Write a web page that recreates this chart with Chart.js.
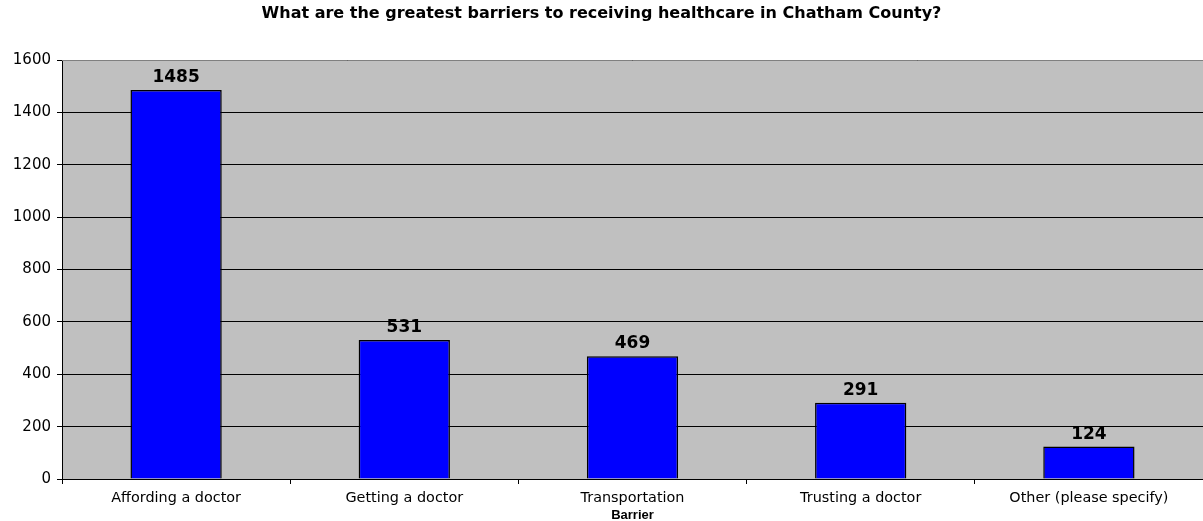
<!DOCTYPE html>
<html>
<head>
<meta charset="utf-8">
<script src="https://cdn.jsdelivr.net/npm/chart.js@4/dist/chart.umd.min.js"></script>
<style>
  html, body { margin: 0; padding: 0; background: #ffffff; }
  #wrap { width: 1203px; height: 521px; }
</style>
</head>
<body>
<div id="wrap"><canvas id="c" width="1203" height="521"></canvas></div>
<script>
// Survey responses: barriers to receiving healthcare
const categories = ["Affording a doctor", "Getting a doctor", "Transportation", "Trusting a doctor", "Other (please specify)"];
const responses = [1485, 531, 469, 291, 124];
const yTicks = [0, 200, 400, 600, 800, 1000, 1200, 1400, 1600];

const FONT = "'DejaVu Sans', 'Liberation Sans', Arial, sans-serif";
const FONT_NARROW = "'Liberation Sans', Arial, sans-serif";

// Grey plot background plus a thin grey frame on top
const plotBackground = {
  id: 'plotBackground',
  beforeDraw(chart) {
    const { ctx, chartArea: a } = chart;
    ctx.save();
    ctx.fillStyle = '#C0C0C0';
    ctx.fillRect(a.left, a.top, a.right - a.left, a.bottom - a.top);
    ctx.restore();
  },
  afterDatasetsDraw(chart) {
    const { ctx, chartArea: a } = chart;
    ctx.save();
    ctx.strokeStyle = '#808080';
    ctx.lineWidth = 1;
    ctx.beginPath();
    ctx.moveTo(a.left, a.top + 0.5);
    ctx.lineTo(a.right, a.top + 0.5);
    ctx.stroke();
    ctx.restore();
  }
};

// Value labels above each bar
const valueLabels = {
  id: 'valueLabels',
  afterDatasetsDraw(chart) {
    const { ctx } = chart;
    const meta = chart.getDatasetMeta(0);
    ctx.save();
    ctx.fillStyle = '#000000';
    ctx.font = 'bold 17px ' + FONT;
    ctx.textAlign = 'center';
    ctx.textBaseline = 'alphabetic';
    meta.data.forEach((bar, i) => {
      ctx.fillText(String(chart.data.datasets[0].data[i]), bar.x, bar.y - 8);
    });
    ctx.restore();
  }
};

new Chart(document.getElementById('c'), {
  type: 'bar',
  data: {
    labels: categories,
    datasets: [{
      data: responses,
      backgroundColor: '#0000FF',
      borderColor: '#000000',
      borderWidth: 1.5,
      borderSkipped: 'bottom',
      categoryPercentage: 1.0,
      barPercentage: 0.4
    }]
  },
  options: {
    responsive: false,
    animation: false,
    layout: { padding: { left: 0, right: 0, top: 0, bottom: 0 } },
    plugins: {
      legend: { display: false },
      tooltip: { enabled: false },
      title: {
        display: true,
        text: 'What are the greatest barriers to receiving healthcare in Chatham County?',
        color: '#000000',
        font: { family: FONT, size: 16, weight: 'bold' },
        padding: { top: 4, bottom: 36.8 }
      }
    },
    scales: {
      x: {
        afterFit(scale) { scale.height = 42; },
        grid: {
          offset: true,
          drawOnChartArea: false,
          drawTicks: true,
          tickLength: 5,
          color: '#000000'
        },
        border: { color: '#000000', width: 1 },
        ticks: {
          color: '#000000',
          font: { family: FONT, size: 14.4 },
          padding: 6,
          maxRotation: 0,
          autoSkip: false
        },
        title: {
          display: true,
          text: 'Barrier',
          color: '#000000',
          font: { family: FONT_NARROW, size: 13, weight: 'bold' },
          padding: { top: 0, bottom: -2.5 }
        }
      },
      y: {
        min: yTicks[0],
        max: yTicks[yTicks.length - 1],
        afterFit(scale) { scale.width = 62; },
        afterBuildTicks(scale) { scale.ticks = yTicks.map(v => ({ value: v })); },
        grid: {
          color: '#000000',
          lineWidth: 1,
          drawTicks: true,
          tickLength: 5
        },
        border: { color: '#000000', width: 1 },
        ticks: {
          color: '#000000',
          font: { family: FONT, size: 15 },
          padding: 6,
          callback: (v) => String(v)
        }
      }
    }
  },
  plugins: [plotBackground, valueLabels]
});
</script>
</body>
</html>
